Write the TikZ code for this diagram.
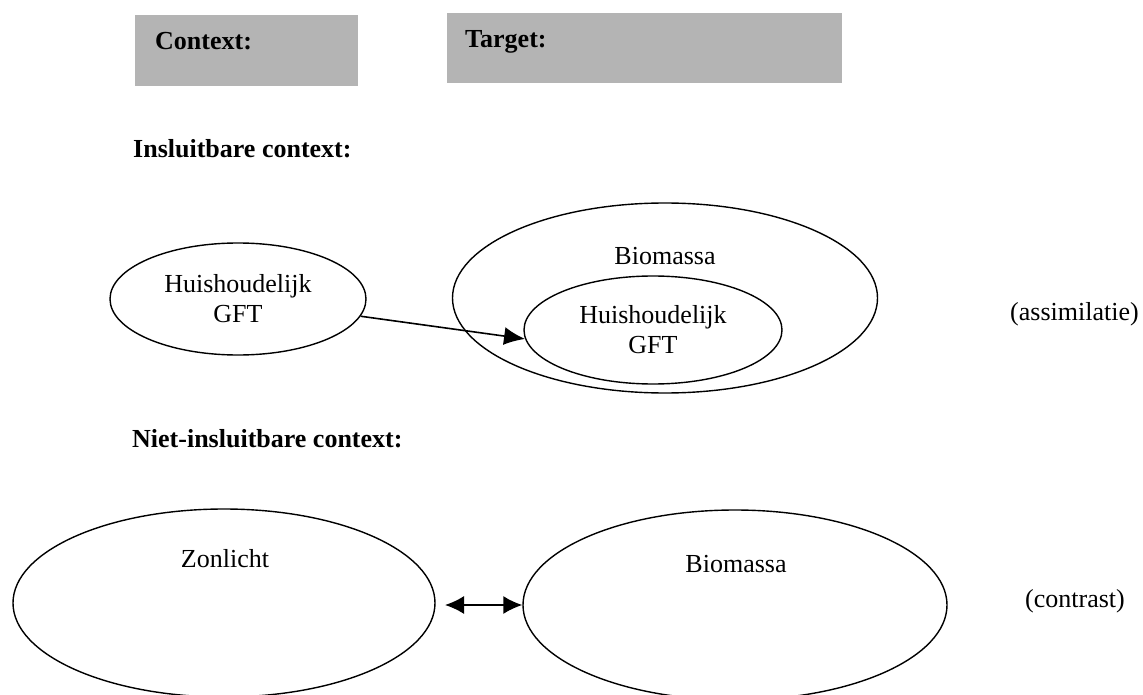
\documentclass[tikz,border=0pt]{standalone}
\usepackage{fontspec}
\setmainfont{Liberation Serif}
\usetikzlibrary{shapes.geometric,arrows.meta}
\definecolor{boxgray}{RGB}{180,180,180}
\begin{document}
\begin{tikzpicture}[x=1pt,y=-1pt,
  every node/.style={font=\fontsize{26}{30}\selectfont},
  ell/.style={draw=black,line width=1.4pt,ellipse,inner sep=0pt,align=center},
  hdr/.style={font=\fontsize{26}{30}\selectfont\bfseries,anchor=base west,inner sep=0pt},
  txt/.style={anchor=base,inner sep=0pt},
  graybox/.style={fill=boxgray,draw=none},
  conn/.style={line width=1.6pt,-{Latex[length=21pt,width=18pt]}},
  dconn/.style={line width=1.6pt,{Latex[length=19pt,width=18pt]}-{Latex[length=19pt,width=18pt]}}
]
\useasboundingbox (0,0) rectangle (1143,695);
% header boxes
\fill[graybox] (135,15) rectangle (358,86);
\fill[graybox] (447,13) rectangle (842,83);
\node[hdr] (ctx) at (155,50) {Context:};
\node[hdr] (tgt) at (465,48) {Target:};
% section 1
\node[hdr] (ins) at (133,158) {Insluitbare context:};
\node[ell,minimum width=256pt,minimum height=112pt] (hg1) at (238,299) {Huishoudelijk\\GFT};
\node[ell,minimum width=425pt,minimum height=190pt] (bio1) at (665,298) {};
\node[txt] (bio1t) at (665,265) {Biomassa};
\node[ell,minimum width=258pt,minimum height=108pt] (hg2) at (653,330) {Huishoudelijk\\GFT};
\draw[conn] (hg1.-8) -- (hg2.184);
\node[anchor=base west,inner sep=0pt] (assim) at (1010,320) {(assimilatie)};
% section 2
\node[hdr] (nins) at (132,447) {Niet-insluitbare context:};
\node[ell,minimum width=422pt,minimum height=188pt] (zon) at (224,603) {};
\node[txt] (zont) at (225,567) {Zonlicht};
\node[ell,minimum width=424pt,minimum height=190pt] (bio2) at (735,605) {};
\node[txt] (bio2t) at (736,572) {Biomassa};
\coordinate (dl) at (445,605);
\draw[dconn] (dl) -- (bio2.west);
\node[anchor=base west,inner sep=0pt] (contr) at (1025,607) {(contrast)};
\end{tikzpicture}
\end{document}
